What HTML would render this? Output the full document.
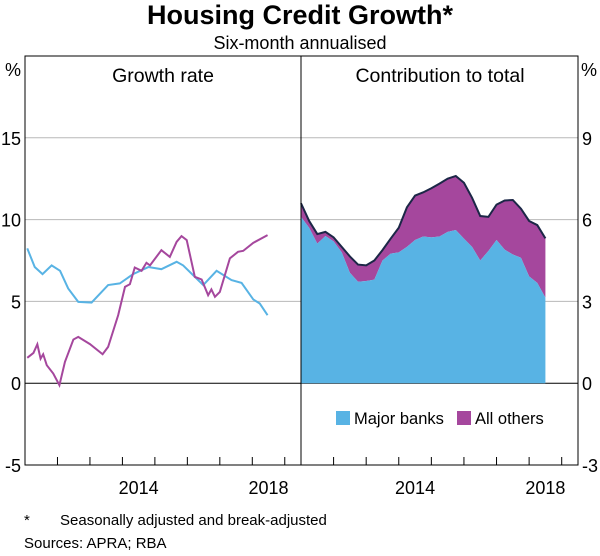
<!DOCTYPE html>
<html><head><meta charset="utf-8">
<style>
body{margin:0;background:#fff;font-family:"Liberation Sans",Arial,sans-serif;}
svg text{font-family:"Liberation Sans",Arial,sans-serif;fill:#000;}
</style></head>
<body>
<svg id="chart" width="600" height="551" viewBox="0 0 600 551">
<text x="300" y="24" text-anchor="middle" font-size="27" font-weight="bold">Housing Credit Growth*</text>
<text x="300" y="49" text-anchor="middle" font-size="18">Six-month annualised</text>
<text x="163" y="82" text-anchor="middle" font-size="19.5">Growth rate</text>
<text x="440" y="82" text-anchor="middle" font-size="19.5">Contribution to total</text>
<text x="13" y="76" text-anchor="middle" font-size="18">%</text>
<text x="589" y="76" text-anchor="middle" font-size="18">%</text>
<g id="grid"></g>
<g id="rightArea"></g>
<g id="leftLines"></g>
<g id="axes"></g>
<g>
<rect x="336" y="411" width="14" height="14" fill="#58b3e4"/>
<text x="354" y="424" font-size="16.5">Major banks</text>
<rect x="457" y="411" width="14" height="14" fill="#a5479d"/>
<text x="475" y="424" font-size="16.5">All others</text>
</g>
<text x="24" y="525" font-size="15">*</text>
<text x="60" y="525" font-size="15">Seasonally adjusted and break-adjusted</text>
<text x="24" y="548" font-size="15">Sources: APRA; RBA</text>
</svg>
<script>
const leftTicks=[15,10,5,0,-5];
const rightTicks=[9,6,3,0,-3];
const yearLabels=[2014,2018];
const majorDates=[2011.07,2011.3,2011.54,2011.82,2012.08,2012.33,2012.64,2013.05,2013.56,2013.92,2014.33,2014.8,2015.2,2015.67,2015.87,2016.18,2016.49,2016.9,2017.36,2017.67,2018.03,2018.23,2018.47];
const majorGrowth=[8.24,7.1,6.67,7.2,6.87,5.79,4.97,4.93,6.0,6.1,6.67,7.1,6.97,7.42,7.2,6.6,6.0,6.87,6.3,6.13,5.12,4.87,4.16];
const otherDates=[2011.07,2011.26,2011.38,2011.48,2011.56,2011.67,2011.87,2012.06,2012.23,2012.49,2012.64,2013.0,2013.39,2013.56,2013.87,2014.08,2014.23,2014.38,2014.59,2014.74,2014.85,2015.2,2015.46,2015.67,2015.82,2015.98,2016.23,2016.44,2016.64,2016.74,2016.85,2017.0,2017.31,2017.56,2017.72,2018.03,2018.47];
const otherGrowth=[1.55,1.85,2.38,1.5,1.77,1.1,0.59,-0.12,1.3,2.67,2.83,2.39,1.77,2.22,4.16,5.89,6.05,7.07,6.87,7.36,7.2,8.13,7.72,8.64,8.99,8.75,6.5,6.34,5.38,5.73,5.28,5.58,7.63,8.03,8.09,8.58,9.05];
const contribDates=[2011.0,2011.25,2011.5,2011.75,2012.0,2012.25,2012.5,2012.75,2013.0,2013.25,2013.5,2013.75,2014.0,2014.25,2014.5,2014.75,2015.0,2015.25,2015.5,2015.75,2016.0,2016.25,2016.5,2016.75,2017.0,2017.25,2017.5,2017.75,2018.0,2018.25,2018.5];
const majorContrib=[6.1,5.7,5.12,5.4,5.2,4.8,4.05,3.72,3.75,3.8,4.5,4.75,4.8,5.0,5.25,5.38,5.35,5.38,5.55,5.62,5.3,5.0,4.5,4.85,5.25,4.9,4.72,4.6,3.92,3.68,3.14];
const otherContrib=[0.5,0.25,0.35,0.15,0.15,0.2,0.6,0.63,0.57,0.7,0.38,0.55,0.9,1.45,1.63,1.62,1.8,1.94,1.95,1.98,2.05,1.8,1.63,1.25,1.3,1.8,2.0,1.8,2.03,2.12,2.17];

const NS="http://www.w3.org/2000/svg";
const TOP=56,BOT=465,LX0=25,LX1=301,RX0=301,RX1=578;
const T0=2011.0,T1=2019.5;
function yL(v){return BOT-(v+5)/25*(BOT-TOP);}
function yR(v){return BOT-(v+3)/15*(BOT-TOP);}
function xL(t){return LX0+(t-T0)/(T1-T0)*(LX1-LX0);}
function xR(t){return RX0+(t-T0)/(T1-T0)*(RX1-RX0);}
function mk(tag,attrs,parent){const e=document.createElementNS(NS,tag);for(const k in attrs)e.setAttribute(k,attrs[k]);parent.appendChild(e);return e;}
const grid=document.getElementById('grid'),axes=document.getElementById('axes');
leftTicks.forEach((v,i)=>{
  const y=yL(v);
  if(v!==-5){const ln=mk('line',{x1:LX0,x2:RX1,y1:y,y2:y,stroke:v===0?'#000':'#b8b8b8','stroke-width':1},grid);
  
  }
  const t=mk('text',{x:21,y:y+7,'text-anchor':'end','font-size':18},axes);t.textContent=v;
  
  
  const t2=mk('text',{x:582,y:y+7,'text-anchor':'start','font-size':18},axes);t2.textContent=rightTicks[i];
  
  
});
const fr=mk('rect',{x:LX0,y:TOP,width:RX1-LX0,height:BOT-TOP,fill:'none',stroke:'#000','stroke-width':1},axes);


const dv=mk('line',{x1:LX1,x2:LX1,y1:TOP,y2:BOT,stroke:'#000'},axes);


for(let yr=2012;yr<=2019;yr++){
  [xL,xR].forEach(f=>{const x=f(yr);const tk=mk('line',{x1:x,x2:x,y1:BOT,y2:BOT-8,stroke:'#000'},axes);
  
  });
}
yearLabels.forEach(yr=>{
  [xL,xR].forEach(f=>{const t=mk('text',{x:f(yr+0.5),y:BOT+29,'text-anchor':'middle','font-size':18},axes);t.textContent=yr;
  
  });
});
const ra=document.getElementById('rightArea');
let pb='M'+xR(contribDates[0])+','+yR(0);
contribDates.forEach((d,i)=>{pb+=' L'+xR(d)+','+yR(majorContrib[i]);});
pb+=' L'+xR(contribDates[contribDates.length-1])+','+yR(0)+' Z';
let po='';
contribDates.forEach((d,i)=>{po+=(i?' L':'M')+xR(d)+','+yR(majorContrib[i]+otherContrib[i]);});
let topLine=po;
for(let i=contribDates.length-1;i>=0;i--){po+=' L'+xR(contribDates[i])+','+yR(majorContrib[i]);}
po+=' Z';
const a1=mk('path',{d:po,fill:'#a5479d'},ra);


const a2=mk('path',{d:pb,fill:'#58b3e4'},ra);


const a3=mk('path',{d:topLine,fill:'none',stroke:'#1c2747','stroke-width':2},ra);


const ll=document.getElementById('leftLines');
function linePath(ds,vs){return ds.map((d,i)=>(i?'L':'M')+xL(d)+','+yL(vs[i])).join(' ');}
const l1=mk('path',{d:linePath(majorDates,majorGrowth),fill:'none',stroke:'#58b3e4','stroke-width':2},ll);


const l2=mk('path',{d:linePath(otherDates,otherGrowth),fill:'none',stroke:'#a5479d','stroke-width':2},ll);


</script>
</body></html>
